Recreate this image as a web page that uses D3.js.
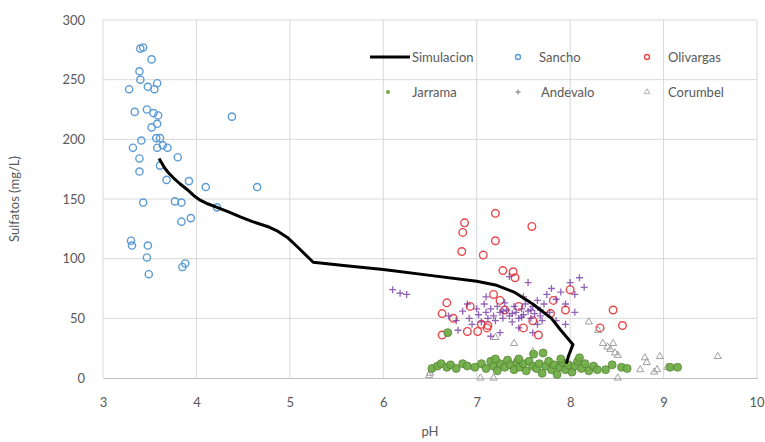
<!DOCTYPE html>
<html><head><meta charset="utf-8">
<script src="https://cdn.jsdelivr.net/npm/d3@7"></script>
<style>
html,body{margin:0;padding:0;background:#fff;}
svg{display:block;font-family:Lato,"Open Sans",sans-serif;}
</style></head>
<body><svg id="c" width="765" height="442"></svg>
<script>
const xTicks = [3,4,5,6,7,8,9,10];
const yTicks = [0,50,100,150,200,250,300];
const xTitle = "pH";
const yTitle = "Sulfatos (mg/L)";
const seriesNames = ["Simulacion","Sancho","Olivargas","Jarrama","Andevalo","Corumbel"];

const simulacion = [[3.60,184],[3.63,180],[3.66,176],[3.70,172],[3.75,168],[3.82,163],[3.90,158],[3.97,153],[4.04,149],[4.12,146],[4.22,143],[4.35,139],[4.47,135],[4.60,131],[4.76,127],[4.87,123],[4.97,118],[5.08,110],[5.25,97],[5.6,94],[6.0,91],[6.5,86],[7.0,81],[7.2,78],[7.4,72],[7.6,62],[7.8,50],[7.9,40],[8.03,28],[7.98,18],[7.96,12]];

const sancho = [[3.40,276],[3.43,277],[3.52,267],[3.39,257],[3.40,250],[3.28,242],[3.48,244],[3.55,242],[3.58,247],[3.34,223],[3.47,225],[3.54,222],[3.59,220],[3.58,213],[3.52,210],[4.38,219],[3.41,199],[3.32,193],[3.57,201],[3.61,201],[3.58,193],[3.64,195],[3.69,193],[3.39,184],[3.80,185],[3.39,173],[3.61,178],[3.68,166],[3.92,165],[4.10,160],[4.65,160],[3.43,147],[3.77,148],[3.84,147],[4.22,143],[3.84,131],[3.94,134],[3.30,115],[3.31,111],[3.48,111],[3.47,101],[3.49,87],[3.88,96],[3.85,93]];

const olivargas = [[7.20,138],[6.87,130],[6.85,122],[7.59,127],[7.20,115],[6.84,106],[7.07,103],[7.28,90],[7.39,89],[7.41,84],[6.68,63],[6.63,54],[6.93,60],[7.18,70],[7.25,65],[7.30,57],[7.12,44],[7.11,42],[6.90,39],[7.01,39],[6.63,36],[7.50,42],[7.66,36],[8.00,74],[7.95,57],[7.82,65],[7.79,54],[8.46,57],[8.32,42],[8.56,44],[7.05,45],[6.75,50],[7.45,60],[7.60,48]];

const jarrama = [[6.69,38],[6.52,8],[6.58,10],[6.62,12],[6.68,9],[6.72,11],[6.78,8],[6.85,12],[6.90,10],[6.98,9],[7.05,12],[7.10,8],[7.15,14],[7.18,10],[7.22,6],[7.25,12],[7.30,9],[7.33,15],[7.36,11],[7.40,7],[7.43,13],[7.46,9],[7.50,12],[7.53,6],[7.56,14],[7.60,10],[7.61,20],[7.64,8],[7.67,12],[7.70,4],[7.71,21],[7.74,10],[7.77,14],[7.80,7],[7.83,11],[7.86,3],[7.89,9],[7.92,13],[7.95,7],[7.98,11],[8.02,5],[8.05,10],[8.08,14],[8.12,8],[8.16,12],[8.20,6],[8.25,10],[8.29,7],[8.38,7],[8.45,11],[8.55,9],[8.61,8],[9.07,9],[9.15,9],[7.20,16],[7.45,16],[7.90,16],[8.10,17]];

const andevalo = [[6.10,74],[6.18,71],[6.25,70],[6.70,52],[6.78,48],[6.85,56],[6.92,50],[6.95,45],[7.00,58],[7.02,53],[7.05,47],[7.08,62],[7.10,55],[7.12,50],[7.15,58],[7.18,52],[7.20,48],[7.22,60],[7.25,55],[7.28,50],[7.30,63],[7.32,57],[7.35,52],[7.38,47],[7.40,60],[7.42,55],[7.45,50],[7.48,58],[7.50,53],[7.52,62],[7.55,56],[7.58,50],[7.60,60],[7.62,54],[7.65,65],[7.68,57],[7.70,48],[7.72,62],[7.75,70],[7.78,55],[7.80,75],[7.85,66],[7.90,72],[7.95,62],[8.00,80],[8.05,70],[8.10,84],[8.15,76],[7.35,85],[7.55,80],[7.10,68],[6.90,62],[7.45,42],[7.25,38],[7.65,45],[7.85,48],[8.05,55],[7.95,45],[7.15,35],[7.50,68],[6.80,40],[7.60,38],[7.38,54],[7.48,51],[7.58,57],[7.28,56],[7.68,52]];

const corumbel = [[9.58,18],[8.96,18],[8.80,17],[8.48,21],[8.40,26],[8.35,29],[8.30,40],[8.51,0],[8.75,7],[8.93,7],[8.90,5],[7.04,0],[7.18,0],[8.82,13],[9.04,9],[6.49,2],[7.20,34],[7.40,29],[7.60,22],[8.46,29],[8.43,24],[8.51,19],[6.50,4],[8.20,47]];

const svg = d3.select("#c");
const m = {l:103, r:757, t:20, b:378};
const x = d3.scaleLinear().domain([3,10]).range([m.l,m.r]);
const y = d3.scaleLinear().domain([0,300]).range([m.b,m.t]);

const g = svg.append("g");
g.selectAll(".gx").data(xTicks).join("line")
  .attr("x1",d=>x(d)).attr("x2",d=>x(d)).attr("y1",m.t).attr("y2",m.b)
  .attr("stroke","#d9d9d9").attr("stroke-width",1);
g.selectAll(".gy").data(yTicks.filter(d=>d>0)).join("line")
  .attr("x1",m.l).attr("x2",m.r).attr("y1",d=>y(d)).attr("y2",d=>y(d))
  .attr("stroke","#d9d9d9").attr("stroke-width",1);

const xAxis = svg.append("g").attr("transform",`translate(0,${m.b})`)
  .call(d3.axisBottom(x).tickValues(xTicks).tickFormat(d3.format("d")).tickSize(0).tickPadding(20));
xAxis.select(".domain").attr("stroke","#bfbfbf").attr("stroke-width",1.2);
xAxis.selectAll("text").attr("fill","#595959").style("font-size","13px").style("font-family","Lato");
xAxis.selectAll(".tick").filter(d=>d===10).select("text").attr("text-anchor","end").attr("dx","7");

const yAxis = svg.append("g").attr("transform",`translate(${m.l},0)`)
  .call(d3.axisLeft(y).tickValues(yTicks).tickFormat(d3.format("d")).tickSize(0).tickPadding(18));
yAxis.select(".domain").remove();
yAxis.selectAll("text").attr("fill","#595959").style("font-size","13px").style("font-family","Lato");

svg.append("text").attr("x",(m.l+m.r)/2).attr("y",436).attr("text-anchor","middle")
  .attr("fill","#595959").style("font-size","13px").text(xTitle);
svg.append("text").attr("transform",`translate(19,${(m.t+m.b)/2}) rotate(-90)`)
  .attr("text-anchor","middle").attr("fill","#595959").style("font-size","13px").text(yTitle);

const plot = svg.append("g");
const blue="#5b9bd5", red="#e8474c", green="#70ad47", purple="#7030a0", gray="#a0a0a0";

function circles(data,color,r){
  plot.append("g").selectAll("circle").data(data).join("circle")
   .attr("cx",d=>x(d[0])).attr("cy",d=>y(d[1])).attr("r",r)
   .attr("fill","none").attr("stroke",color).attr("stroke-width",1.4);
}
circles(sancho,blue,3.6);
circles(olivargas,red,3.8);

const tri = d3.symbol().type(d3.symbolTriangle).size(22);
plot.append("g").selectAll("path").data(corumbel).join("path")
  .attr("d",tri).attr("transform",d=>`translate(${x(d[0])},${y(d[1])})`)
  .attr("fill","none").attr("stroke",gray).attr("stroke-width",1);

plot.append("g").selectAll("path").data(andevalo).join("path")
  .attr("d",d=>{const cx=x(d[0]),cy=y(d[1]);return `M${cx-3.5},${cy}H${cx+3.5}M${cx},${cy-3.5}V${cy+3.5}`;})
  .attr("stroke",purple).attr("stroke-width",1.3).attr("opacity",0.75);

plot.append("g").selectAll("circle").data(jarrama).join("circle")
  .attr("cx",d=>x(d[0])).attr("cy",d=>y(d[1])).attr("r",4)
  .attr("fill",green).attr("stroke","#548235").attr("stroke-width",0.8).attr("opacity",0.95);

const line = d3.line().x(d=>x(d[0])).y(d=>y(d[1])).curve(d3.curveLinear);
plot.append("path").datum(simulacion).attr("d",line)
  .attr("fill","none").attr("stroke","#000").attr("stroke-width",3).attr("stroke-linejoin","round");

const lg = svg.append("g").style("font-size","13px").attr("fill","#595959");
const items = [
  {n:seriesNames[0], mx:390, tx:412, ly:57, t:"line"},
  {n:seriesNames[1], mx:518, tx:539, ly:57, t:"c", c:blue},
  {n:seriesNames[2], mx:647, tx:668, ly:57, t:"c", c:red},
  {n:seriesNames[3], mx:388, tx:412, ly:92, t:"g", c:green},
  {n:seriesNames[4], mx:518, tx:541, ly:92, t:"p", c:"#777"},
  {n:seriesNames[5], mx:647, tx:668, ly:92, t:"t", c:gray}
];
items.forEach(it=>{
  if(it.t==="line") lg.append("line").attr("x1",370).attr("x2",410).attr("y1",it.ly).attr("y2",it.ly).attr("stroke","#000").attr("stroke-width",3);
  if(it.t==="c") lg.append("circle").attr("cx",it.mx).attr("cy",it.ly).attr("r",2.5).attr("fill","none").attr("stroke",it.c).attr("stroke-width",1.4);
  if(it.t==="g") lg.append("circle").attr("cx",it.mx).attr("cy",it.ly).attr("r",2).attr("fill",it.c);
  if(it.t==="p") lg.append("path").attr("d",`M${it.mx-2.5},${it.ly}H${it.mx+2.5}M${it.mx},${it.ly-2.5}V${it.ly+2.5}`).attr("stroke",it.c).attr("stroke-width",1);
  if(it.t==="t") lg.append("path").attr("d",d3.symbol().type(d3.symbolTriangle).size(14)()).attr("transform",`translate(${it.mx},${it.ly})`).attr("fill","none").attr("stroke",it.c).attr("stroke-width",0.8);
  lg.append("text").attr("x",it.tx).attr("y",it.ly).attr("dy","0.35em").text(it.n);
});
</script></body></html>
